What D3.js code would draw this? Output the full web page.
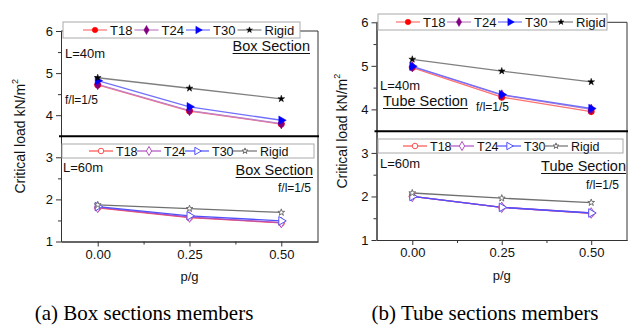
<!DOCTYPE html>
<html lang="en">
<head>
<meta charset="UTF-8">
<title>Critical load vs p/g</title>
<style>
    body { margin: 0; background: #fff; }
    svg { display: block; font-family: "Liberation Sans", Arial, sans-serif; }
</style>
</head>
<body>
<svg id="chart" width="643" height="330"></svg>
<script src="https://d3js.org/d3.v7.min.js"></script>
<script>
// data
const pg = [0, 0.25, 0.5];
const seriesNames = ["T18", "T24", "T30", "Rigid"];
const xTicks = [0, 0.25, 0.5];
const yTopTicks = [4, 5, 6];
const yBotTicks = [1, 2, 3];

// box section, L=40m  (T18, T24, T30, Rigid)
const boxL40 = [
    [4.72, 4.10, 3.79],
    [4.73, 4.11, 3.80],
    [4.82, 4.20, 3.88],
    [4.89, 4.64, 4.39]
];
// box section, L=60m
const boxL60 = [
    [1.80, 1.57, 1.44],
    [1.81, 1.58, 1.45],
    [1.83, 1.61, 1.49],
    [1.87, 1.78, 1.69]
];
// tube section, L=40m
const tubeL40 = [
    [4.96, 4.28, 3.95],
    [4.98, 4.33, 4.00],
    [4.99, 4.34, 4.02],
    [5.15, 4.88, 4.63]
];
// tube section, L=60m
const tubeL60 = [
    [2.00, 1.75, 1.61],
    [2.00, 1.75, 1.62],
    [2.00, 1.75, 1.62],
    [2.08, 1.96, 1.86]
];

const markColor = ["#ff0000", "#800080", "#0000ff", "#000000"];
const lineColor = ["#ff7070", "#c080c8", "#7070ff", "#808080"];
const openColor = ["#ff5050", "#b050c0", "#5050ff", "#707070"];

const svg = d3.select("#chart");

function symbolPath(i, size) {
    const types = [d3.symbolCircle, d3.symbolDiamond, d3.symbolTriangle, d3.symbolStar];
    return d3.symbol().type(types[i]).size(i === 3 ? size * 0.45 : size)();
}
function rot(i) { return i === 2 ? " rotate(90)" : ""; }

function drawPanel(p) {
    const g = svg.append("g");
    const x = d3.scaleLinear().domain([-0.1, 0.6]).range([p.left, p.right]);
    const yBreak = p.bottom - (p.bottom - p.top) * 2.5 / 5;
    const yTop = d3.scaleLinear().domain([3.5, 6]).range([yBreak, p.top]);
    const yBot = d3.scaleLinear().domain([1, 3.5]).range([p.bottom, yBreak]);

    // axes
    const axisStyle = sel => {
        sel.selectAll("path").attr("stroke", "#333");
        sel.selectAll("line").attr("stroke", "#333");
        sel.selectAll("text").attr("font-size", 13).attr("fill", "#111")
            .attr("font-family", "Liberation Sans, Arial, sans-serif");
    };
    g.append("g").attr("transform", `translate(${p.left},0)`)
        .call(d3.axisLeft(yTop).tickValues(yTopTicks).tickSize(5).tickPadding(3).tickFormat(d3.format("d")).tickSizeOuter(0))
        .call(axisStyle);
    g.append("g").attr("transform", `translate(${p.left},0)`)
        .call(d3.axisLeft(yTop).tickValues([4.5, 5.5]).tickSize(3).tickFormat("").tickSizeOuter(0))
        .call(axisStyle);
    g.append("g").attr("transform", `translate(${p.left},0)`)
        .call(d3.axisLeft(yBot).tickValues(yBotTicks).tickSize(5).tickPadding(3).tickFormat(d3.format("d")).tickSizeOuter(0))
        .call(axisStyle);
    g.append("g").attr("transform", `translate(${p.left},0)`)
        .call(d3.axisLeft(yBot).tickValues([1.5, 2.5]).tickSize(3).tickFormat("").tickSizeOuter(0))
        .call(axisStyle);
    g.append("g").attr("transform", `translate(0,${p.bottom})`)
        .call(d3.axisBottom(x).tickValues(xTicks).tickSize(5).tickPadding(3).tickFormat(d3.format(".2f")).tickSizeOuter(0))
        .call(axisStyle);
    g.append("g").attr("transform", `translate(0,${p.bottom})`)
        .call(d3.axisBottom(x).tickValues([0.125, 0.375]).tickSize(3).tickFormat("").tickSizeOuter(0))
        .call(axisStyle);

    // frame
    g.append("path")
        .attr("d", `M${p.left},${p.top}H${p.right}V${p.bottom}`)
        .attr("fill", "none").attr("stroke", "#333");
    g.append("line")
        .attr("x1", p.left - 2).attr("x2", p.right + 1)
        .attr("y1", yBreak).attr("y2", yBreak)
        .attr("stroke", "#000").attr("stroke-width", 2);

    // series
    const parts = [
        { y: yTop, data: p.top40, filled: true },
        { y: yBot, data: p.bot60, filled: false }
    ];
    parts.forEach(part => {
        const line = d3.line().x((d, i) => x(pg[i])).y(d => part.y(d));
        part.data.forEach((vals, s) => {
            g.append("path").datum(vals)
                .attr("d", line)
                .attr("fill", "none")
                .attr("stroke", part.filled ? lineColor[s] : openColor[s])
                .attr("stroke-width", 1.3);
        });
        part.data.forEach((vals, s) => {
            g.selectAll(null).data(vals).join("path")
                .attr("d", symbolPath(s, 32))
                .attr("transform", (d, i) => `translate(${x(pg[i])},${part.y(d)})${rot(s)}`)
                .attr("fill", part.filled ? markColor[s] : "#fff")
                .attr("stroke", part.filled ? markColor[s] : openColor[s])
                .attr("stroke-width", part.filled ? 0.5 : 1);
        });
    });

    // legends
    [p.legTop, p.legBot].forEach((lg, k) => {
        const filled = k === 0;
        g.append("rect")
            .attr("x", lg.x).attr("y", lg.y).attr("width", lg.w).attr("height", lg.h)
            .attr("fill", "#fff").attr("stroke", "#aaa");
        const cy = lg.y + lg.h / 2;
        seriesNames.forEach((name, s) => {
            const tx = lg.text0 + s * lg.step;
            g.append("line")
                .attr("x1", tx - 27).attr("x2", tx - 3)
                .attr("y1", cy).attr("y2", cy)
                .attr("stroke", filled ? lineColor[s] : openColor[s]).attr("stroke-width", 1.2);
            g.append("path")
                .attr("d", symbolPath(s, 24))
                .attr("transform", `translate(${tx - 15},${cy})${rot(s)}`)
                .attr("fill", filled ? markColor[s] : "#fff")
                .attr("stroke", filled ? markColor[s] : openColor[s])
                .attr("stroke-width", filled ? 0.5 : 1);
            g.append("text")
                .attr("x", tx).attr("y", cy).attr("dy", "0.36em")
                .attr("font-size", lg.fs).attr("fill", "#111")
                .text(name);
        });
    });

    // notes
    p.notes.forEach(n => {
        const t = g.append("text")
            .attr("x", n.x).attr("y", n.y).attr("dy", "0.36em")
            .attr("font-size", n.fs).attr("fill", "#111")
            .attr("text-anchor", n.anchor || "start")
            .text(n.text);
        if (n.underline) {
            const bb = t.node().getBBox();
            g.append("line")
                .attr("x1", bb.x).attr("x2", bb.x + bb.width)
                .attr("y1", n.y + 7.5).attr("y2", n.y + 7.5)
                .attr("stroke", "#111").attr("stroke-width", 1.2);
        }
    });

    // axis titles
    const yl = g.append("text")
        .attr("transform", `translate(${p.ylabX},${(p.top + p.bottom) / 2}) rotate(-90)`)
        .attr("text-anchor", "middle").attr("dy", "0.36em")
        .attr("font-size", 14).attr("fill", "#111");
    yl.append("tspan").text("Critical load kN/m");
    yl.append("tspan").attr("font-size", 9).attr("dy", "-0.8em").text("2");

    g.append("text")
        .attr("x", x(0.25)).attr("y", p.bottom + 35).attr("dy", "0.36em")
        .attr("text-anchor", "middle").attr("font-size", 13).attr("fill", "#111")
        .text("p/g");

    g.append("text")
        .attr("x", p.capX).attr("y", 312).attr("dy", "0.36em")
        .attr("text-anchor", "middle")
        .attr("font-family", "Liberation Serif, Times New Roman, serif")
        .attr("font-size", 21).attr("fill", "#000")
        .text(p.caption);
}

drawPanel({
    left: 61, right: 318, top: 31, bottom: 241.5,
    top40: boxL40, bot60: boxL60,
    legTop: { x: 63, y: 22, w: 237, h: 16, text0: 110, step: 51.5, fs: 13 },
    legBot: { x: 62, y: 144, w: 252, h: 14, text0: 116, step: 48, fs: 12.5 },
    notes: [
        { text: "L=40m", x: 65, y: 53, fs: 13 },
        { text: "Box Section", x: 310, y: 46, fs: 14.5, anchor: "end", underline: true },
        { text: "f/l=1/5", x: 65, y: 100, fs: 12 },
        { text: "L=60m", x: 63, y: 167, fs: 13 },
        { text: "Box Section", x: 313, y: 170, fs: 14.5, anchor: "end", underline: true },
        { text: "f/l=1/5", x: 311, y: 188, fs: 12, anchor: "end" }
    ],
    ylabX: 20, capX: 144, caption: "(a) Box sections members"
});

drawPanel({
    left: 376.5, right: 627, top: 22.3, bottom: 240,
    top40: tubeL40, bot60: tubeL60,
    legTop: { x: 378, y: 14, w: 229, h: 16, text0: 423, step: 51, fs: 13 },
    legBot: { x: 378, y: 139, w: 245, h: 14, text0: 430, step: 47, fs: 12.5 },
    notes: [
        { text: "L=40m", x: 380, y: 85, fs: 13 },
        { text: "Tube Section", x: 383, y: 101, fs: 14.5, underline: true },
        { text: "f/l=1/5", x: 476, y: 107, fs: 12 },
        { text: "L=60m", x: 380, y: 163, fs: 13 },
        { text: "Tube Section", x: 626, y: 166, fs: 14.5, anchor: "end", underline: true },
        { text: "f/l=1/5", x: 619, y: 185, fs: 12, anchor: "end" }
    ],
    ylabX: 342, capX: 485, caption: "(b) Tube sections members"
});
</script>
</body>
</html>
